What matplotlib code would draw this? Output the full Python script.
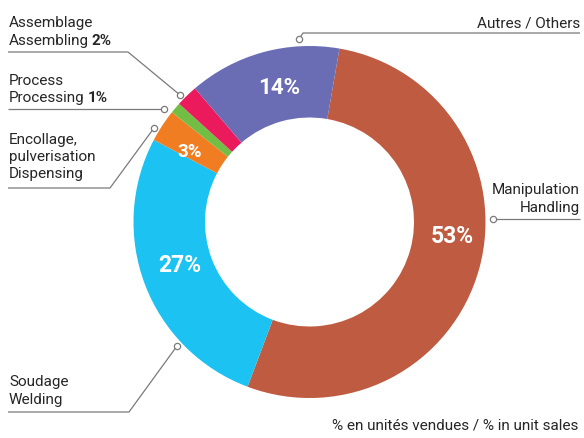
import numpy as np
import matplotlib
matplotlib.use('Agg')
import matplotlib.pyplot as plt

plt.rcParams['font.family'] = ['Roboto', 'DejaVu Sans']

# donnees
names_fr = ['Manipulation', 'Soudage', 'Encollage,\npulverisation', 'Process', 'Assemblage', 'Autres']
names_en = ['Handling', 'Welding', 'Dispensing', 'Processing', 'Assembling', 'Others']
shares = [53, 27, 3, 1, 2, 14]
colors = ['#BF5B41', '#1CC2F1', '#F07D22', '#72BE44', '#EA1A5D', '#6A6DB3']
footer = '% en unités vendues / % in unit sales'

W, H = 584, 438
fig = plt.figure(figsize=(W / 100, H / 100), dpi=100)
ax = fig.add_axes([0, 0, 1, 1])

cx, cy, R, r_in = 309.5, 222, 176, 104.5

def fmt(p):
    return '%d%%' % round(p) if p >= 2.5 else ''

wedges, texts, autotexts = ax.pie(
    shares, colors=colors, startangle=-80.2, counterclock=True,
    radius=R, center=(cx, cy), frame=True,
    wedgeprops=dict(width=R - r_in, linewidth=0),
    autopct=fmt, pctdistance=(R + r_in) / 2 / R)

# position (centre x, ligne de base) et taille des pourcentages
pct_pos = {'53%': (452, 243, 16.5), '27%': (180, 272, 16.5),
           '14%': (279, 94, 16), '3%': (190, 157, 13.5)}
for t in autotexts:
    s = t.get_text()
    if s in pct_pos:
        x, y, size = pct_pos[s]
        t.set_position((x, y))
        t.set_va('baseline')
        t.set_fontsize(size)
    t.set_color('white')
    t.set_fontweight('bold')

ax.set_xlim(0, W)
ax.set_ylim(H, 0)
ax.axis('off')

gray = '#7a7a7a'
txt = '#262626'
fs = 11

# lignes de rappel (x, y en pixels)
leaders = [
    [(580, 219), (493, 219)],              # Handling
    [(8, 412), (129, 412), (177, 346)],    # Welding
    [(8, 188), (110, 188), (154, 128)],    # Dispensing
    [(8, 109), (164, 109)],                # Processing
    [(8, 52), (128, 52), (180, 95)],       # Assembling
    [(580, 33), (303, 33), (299, 39)],     # Others
]
for pts in leaders:
    xs, ys = zip(*pts)
    ax.plot(xs, ys, color=gray, lw=0.9, solid_capstyle='butt')
    ax.plot(xs[-1], ys[-1], 'o', ms=4.5, mfc='white', mec=gray, mew=0.9)

fig.canvas.draw()
renderer = fig.canvas.get_renderer()
inv = ax.transData.inverted()

def put(x, y, s, ha='left', bold_tail=None):
    t = ax.text(x, y, s, ha=ha, va='baseline', fontsize=fs, color=txt)
    if bold_tail:
        bb = t.get_window_extent(renderer)
        x1 = inv.transform((bb.x1, bb.y0))[0]
        ax.text(x1 + 3, y, bold_tail, ha='left', va='baseline',
                fontsize=fs, color=txt, fontweight='bold')

# Handling
put(580, 194, names_fr[0], ha='right')
put(580, 212, names_en[0], ha='right')
# Welding
put(9, 386, names_fr[1])
put(9, 404, names_en[1])
# Dispensing
fr = names_fr[2].split('\n')
put(9, 144, fr[0])
put(9, 161, fr[1])
put(9, 178, names_en[2])
# Processing
put(9, 85, names_fr[3])
put(9, 102, names_en[3], bold_tail='%d%%' % shares[3])
# Assembling
put(9, 27, names_fr[4])
put(9, 45, names_en[4], bold_tail='%d%%' % shares[4])
# Others
put(580, 27, names_fr[5] + ' / ' + names_en[5], ha='right')

ax.text(578, 430, footer, ha='right', va='baseline', fontsize=fs, color=txt)

fig.savefig('out.png', dpi=100)
